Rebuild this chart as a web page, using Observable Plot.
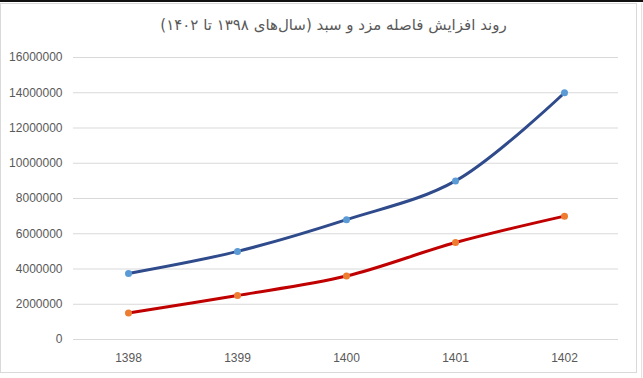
<!DOCTYPE html>
<html>
<head>
<meta charset="utf-8">
<script src="https://cdn.jsdelivr.net/npm/d3@7"></script>
<script src="https://cdn.jsdelivr.net/npm/@observablehq/plot@0.6"></script>
<style>
  html, body { margin: 0; padding: 0; background: #fff; width: 643px; height: 378px; overflow: hidden; }
  #topbar { position: absolute; left: 0; top: 0; width: 643px; height: 2px; background: #111; }
  #box { position: absolute; left: 0; top: 3px; width: 635px; height: 368px; border: 1px solid #d9d9d9; }
  #edge { position: absolute; left: 641px; top: 3px; width: 1px; height: 375px; background: #e4e4e4; }
  #title { position: absolute; left: 0; top: 16px; width: 667px; text-align: center; direction: rtl;
           font-family: "DejaVu Sans", sans-serif; font-size: 15px; color: #595959; }
  #chart { position: absolute; left: 0; top: 0; }
</style>
</head>
<body>
<div id="topbar"></div>
<div id="box"></div>
<div id="edge"></div>
<div id="title">روند افزایش فاصله مزد و سبد (سال‌های ۱۳۹۸ تا ۱۴۰۲)</div>
<div id="chart"></div>
<script>
const years = ["1398", "1399", "1400", "1401", "1402"];
const basket = [3750000, 5000000, 6800000, 9000000, 14000000];
const wage = [1500000, 2500000, 3600000, 5500000, 7000000];
const yTicks = [0, 2000000, 4000000, 6000000, 8000000, 10000000, 12000000, 14000000, 16000000];

const basketData = years.map((y, i) => ({year: y, value: basket[i]}));
const wageData = years.map((y, i) => ({year: y, value: wage[i]}));

const chart = Plot.plot({
  width: 643,
  height: 378,
  marginTop: 57,
  marginBottom: 39,
  marginLeft: 73,
  marginRight: 25,
  style: {fontFamily: "'Liberation Sans', Arial, sans-serif", fontSize: "12px", color: "#595959", background: "transparent"},
  x: {type: "point", domain: years, padding: 0.5, label: null},
  y: {domain: [0, 16000000], label: null},
  marks: [
    Plot.gridY(yTicks, {stroke: "#d9d9d9", strokeOpacity: 1}),
    Plot.axisY({ticks: yTicks, tickSize: 0, tickPadding: 11, tickFormat: d3.format("d"), label: null}),
    Plot.axisX({tickSize: 0, tickPadding: 14, label: null}),
    Plot.line(wageData, {x: "year", y: "value", stroke: "#C00000", strokeWidth: 3, curve: "catmull-rom"}),
    Plot.line(basketData, {x: "year", y: "value", stroke: "#2F4B8C", strokeWidth: 3, curve: "catmull-rom"}),
    Plot.dot(wageData, {x: "year", y: "value", r: 3.5, fill: "#ED7D31", stroke: "none"}),
    Plot.dot(basketData, {x: "year", y: "value", r: 3.5, fill: "#5B9BD5", stroke: "none"})
  ]
});
document.getElementById("chart").appendChild(chart);
</script>
</body>
</html>
